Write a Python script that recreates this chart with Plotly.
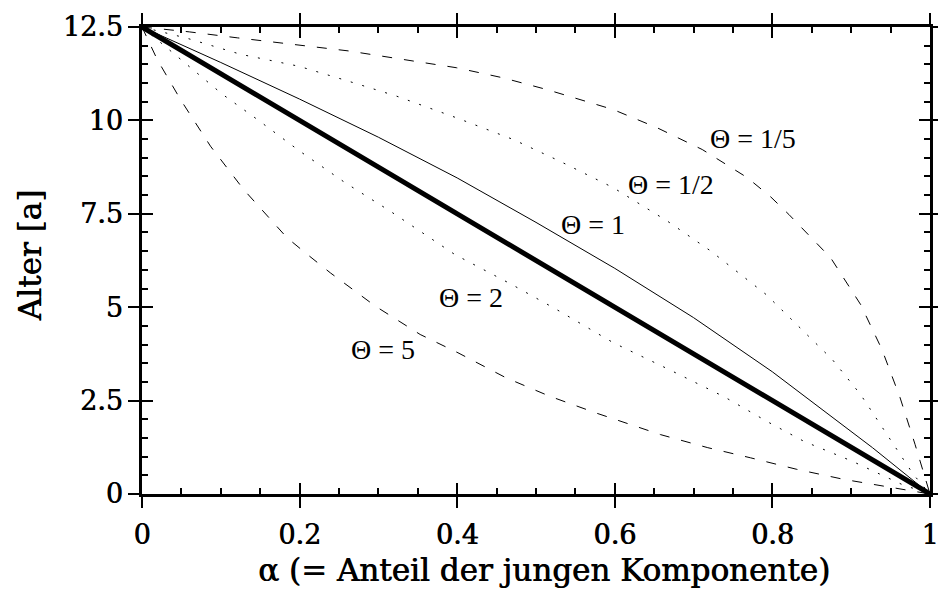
import plotly.graph_objects as go

# ---- data ----
alpha_lin = [0.0, 1.0]
age_lin = [12.5, 0.0]

alpha_t1 = [0, 0.1, 0.2, 0.3, 0.4, 0.5, 0.6, 0.7, 0.8, 0.88, 0.927, 1.0]
age_t1 = [12.5, 11.55, 10.57, 9.55, 8.46, 7.27, 6.04, 4.72, 3.27, 2.0, 1.24, 0.0]

alpha_t2 = [0, 0.059, 0.102, 0.146, 0.200, 0.258, 0.315, 0.397, 0.469, 0.526, 0.598, 0.669, 0.739, 0.795, 0.840, 0.901, 0.965, 1.0]
age_t2 = [12.5, 11.45, 10.70, 10.03, 9.18, 8.33, 7.57, 6.41, 5.61, 4.94, 4.05, 3.33, 2.60, 1.92, 1.41, 0.88, 0.25, 0.0]

alpha_t5 = [0, 0.0193, 0.0488, 0.0869, 0.129, 0.184, 0.207, 0.239, 0.296, 0.353, 0.401, 0.462, 0.517, 0.576, 0.658, 0.718, 0.772, 0.831, 0.891, 0.952, 1.0]
age_t5 = [12.5, 11.63, 10.56, 9.31, 8.15, 6.86, 6.46, 5.92, 5.03, 4.27, 3.78, 3.11, 2.62, 2.17, 1.59, 1.24, 0.97, 0.66, 0.39, 0.17, 0.0]

alpha_th = [0, 0.057, 0.125, 0.199, 0.262, 0.323, 0.399, 0.471, 0.530, 0.598, 0.667, 0.722, 0.792, 0.833, 0.876, 0.912, 0.945, 0.979, 1.0]
age_th = [12.5, 12.2, 11.77, 11.45, 11.05, 10.65, 10.07, 9.49, 8.91, 8.20, 7.30, 6.50, 5.34, 4.49, 3.60, 2.66, 1.59, 0.52, 0.0]

alpha_tf = [0, 0.06, 0.121, 0.174, 0.262, 0.344, 0.399, 0.458, 0.513, 0.598, 0.654, 0.711, 0.768, 0.798, 0.821, 0.874, 0.912, 0.939, 0.962, 0.981, 1.0]
age_tf = [12.5, 12.37, 12.21, 12.08, 11.86, 11.59, 11.41, 11.14, 10.83, 10.29, 9.80, 9.22, 8.47, 7.95, 7.48, 6.32, 5.07, 3.87, 2.58, 1.33, 0.0]

label_texts = ["Θ = 1/5", "Θ = 1/2", "Θ = 1", "Θ = 2", "Θ = 5"]
label_x = [0.776, 0.671, 0.572, 0.417, 0.306]
label_y = [9.52, 8.29, 7.21, 5.27, 3.87]

x_ticks = [0, 0.2, 0.4, 0.6, 0.8, 1]
x_tick_text = ["0", "0.2", "0.4", "0.6", "0.8", "1"]
y_ticks = [0, 2.5, 5, 7.5, 10, 12.5]
y_tick_text = ["0", "2.5", "5", "7.5", "10", "12.5"]

x_title = "α (= Anteil der jungen Komponente)"
y_title = "Alter [a]"

HEAVY = "0.7px 0px 0px black"
TICKFONT = dict(family="DejaVu Serif", size=27, color="black", shadow=HEAVY)
TITLEFONT = dict(family="DejaVu Serif", size=31, color="black", shadow=HEAVY)
LABELFONT = dict(family="Liberation Serif", size=28, color="black")

fig = go.Figure()

def add_line(x, y, width, dash):
    fig.add_trace(go.Scatter(x=x, y=y, mode="lines",
                             line=dict(color="black", width=width, dash=dash),
                             showlegend=False, hoverinfo="skip"))

add_line(alpha_tf, age_tf, 1, "10px,12px")
add_line(alpha_th, age_th, 1, "2px,10px")
add_line(alpha_t1, age_t1, 1, "solid")
add_line(alpha_lin, age_lin, 5, "solid")
add_line(alpha_t2, age_t2, 1, "2px,10px")
add_line(alpha_t5, age_t5, 1, "10px,12px")

# invisible trace for the overlay axes (inner ticks)
fig.add_trace(go.Scatter(x=alpha_lin, y=age_lin, xaxis="x2", yaxis="y2",
                         mode="lines", line=dict(width=0), opacity=0,
                         showlegend=False, hoverinfo="skip"))

for t, xx, yy in zip(label_texts, label_x, label_y):
    fig.add_annotation(x=xx, y=yy, text=t, showarrow=False, font=LABELFONT,
                       xanchor="center", yanchor="middle")

fig.add_annotation(xref="paper", yref="paper", x=0.51, y=-0.163, text=x_title,
                   showarrow=False, font=TITLEFONT, xanchor="center", yanchor="middle")
fig.add_annotation(xref="paper", yref="paper", x=-0.1427, y=0.51, text=y_title,
                   showarrow=False, font=TITLEFONT, xanchor="center", yanchor="middle",
                   textangle=-90)

axis_common = dict(showgrid=False, zeroline=False, showline=True, linecolor="black",
                   linewidth=2.5, mirror="ticks", tickcolor="black", tickwidth=2,
                   automargin=False)

fig.update_layout(
    width=938, height=589,
    margin=dict(l=141.5, r=8, t=27, b=94.5),
    paper_bgcolor="white", plot_bgcolor="white",
    xaxis=dict(range=[0, 1], tickvals=x_ticks, ticktext=x_tick_text, ticks="outside",
               ticklen=11, tickfont=TICKFONT, ticklabelstandoff=4,
               ticklabeloverflow="allow", **axis_common),
    yaxis=dict(range=[0, 12.5], tickvals=y_ticks, ticktext=y_tick_text, ticks="outside",
               ticklen=11, tickfont=TICKFONT, ticklabeloverflow="allow", **axis_common),
    xaxis2=dict(range=[0, 1], overlaying="x", anchor="y2", side="bottom", tickvals=x_ticks,
                ticks="inside", ticklen=11, showticklabels=False,
                minor=dict(ticks="inside", ticklen=6, dtick=0.05, tickwidth=2, tickcolor="black"),
                **axis_common),
    yaxis2=dict(range=[0, 12.5], overlaying="y", anchor="x2", side="left", tickvals=y_ticks,
                ticks="inside", ticklen=11, showticklabels=False,
                minor=dict(ticks="inside", ticklen=6, dtick=0.5, tickwidth=2, tickcolor="black"),
                **axis_common),
)

fig.write_html("out.html")
